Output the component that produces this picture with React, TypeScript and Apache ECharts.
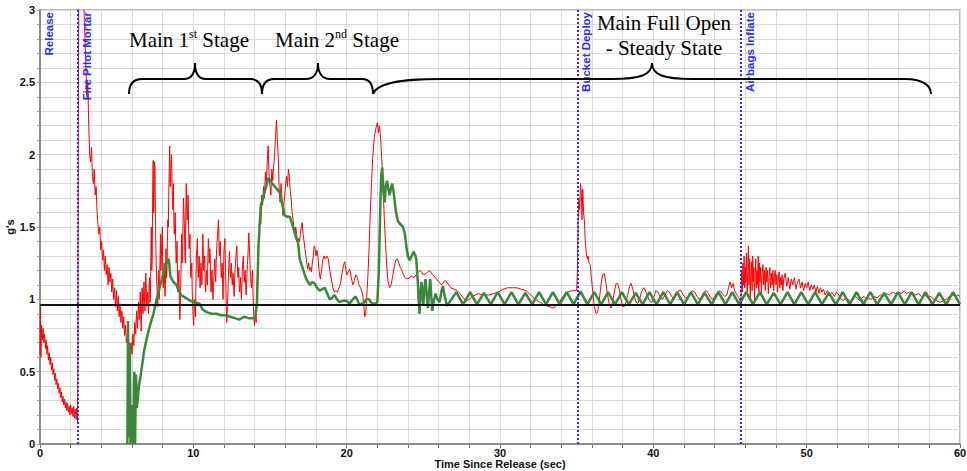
import React, { useEffect, useRef } from 'react';
import * as echarts from 'echarts';

type Pt = [number, number];

const eventNames = ['Release', 'Fire Pilot Mortar', 'Bucket Deploy', 'Airbags Inflate'];
const eventTimes = [0, 2.48, 35.05, 45.72];
const oneG = 0.96;

const redFreefall: Pt[] = [[0,0.62],[0.03,0.95],[0.06,0.6],[0.1,0.82],[0.15,0.72],[0.2,0.8],[0.25,0.7],[0.3,0.76],[0.35,0.66],[0.4,0.72],[0.45,0.62],[0.5,0.68],[0.55,0.58],[0.6,0.63],[0.65,0.55],[0.7,0.6],[0.75,0.51],[0.8,0.56],[0.85,0.48],[0.9,0.52],[0.95,0.44],[1.0,0.49],[1.05,0.41],[1.1,0.45],[1.15,0.38],[1.2,0.42],[1.25,0.35],[1.3,0.39],[1.35,0.32],[1.4,0.36],[1.45,0.29],[1.5,0.33],[1.55,0.27],[1.6,0.31],[1.65,0.25],[1.7,0.29],[1.75,0.23],[1.8,0.28],[1.85,0.22],[1.9,0.26],[1.95,0.2],[2.0,0.27],[2.05,0.21],[2.1,0.25],[2.15,0.19],[2.2,0.26],[2.25,0.18],[2.3,0.24],[2.35,0.17],[2.4,0.25],[2.45,0.15]];

const redPilotChute: Pt[] = [[2.47,0.5],[2.5,2.2],[2.53,3.2],[2.8,3.2],[2.9,2.9],[3.0,2.6],[3.06,2.4],[3.12,2.5],[3.18,2.2],[3.24,2.0],[3.3,1.95],[3.36,2.05],[3.42,1.85],[3.48,1.8],[3.54,1.9],[3.6,1.72],[3.66,1.78],[3.72,1.6],[3.78,1.52],[3.84,1.45],[3.9,1.5],[3.96,1.34],[4.02,1.4],[4.08,1.27],[4.14,1.34],[4.2,1.2],[4.26,1.3],[4.32,1.17],[4.38,1.24],[4.44,1.1],[4.5,1.22],[4.56,1.12],[4.62,1.18],[4.68,1.05],[4.74,1.14],[4.8,1.0],[4.86,1.08],[4.92,0.95],[4.98,1.06],[5.04,0.92],[5.1,1.02],[5.16,0.88],[5.22,0.97],[5.28,0.84],[5.34,0.92],[5.4,0.8],[5.46,0.88],[5.52,0.75],[5.58,0.82],[5.64,0.7],[5.7,0.75],[5.76,0.6],[5.82,0.68],[5.88,0.58],[5.94,0.7],[6.0,0.62],[6.06,0.76],[6.12,0.68],[6.18,0.84],[6.24,0.76],[6.3,0.92],[6.36,0.8],[6.42,0.98],[6.48,0.86],[6.54,1.05],[6.6,0.78],[6.66,1.08],[6.72,0.9],[6.78,1.12],[6.84,0.92],[6.9,1.18],[6.96,0.95],[7.02,1.05]];

const redFirstStage: Pt[] = [[7.08,0.9],[7.11,1.05],[7.14,1.15],[7.17,0.98],[7.2,1.0],[7.23,1.3],[7.26,1.5],[7.29,1.2],[7.32,1.3],[7.35,1.75],[7.38,1.96],[7.41,1.6],[7.44,1.7],[7.47,1.95],[7.5,1.9],[7.53,1.55],[7.56,1.35],[7.59,1.2],[7.62,1.1],[7.65,1.02],[7.68,0.95],[7.71,1.1],[7.74,1.2],[7.77,1.0],[7.8,1.05],[7.83,1.3],[7.86,1.45],[7.89,1.2],[7.92,1.3],[7.95,1.42],[7.98,1.5],[8.01,1.2],[8.04,1.08],[8.07,1.18],[8.1,1.25],[8.13,1.1],[8.16,1.02],[8.19,1.2],[8.22,1.35],[8.25,1.15],[8.28,1.2],[8.31,1.4],[8.34,1.55],[8.37,1.5],[8.4,1.75],[8.43,1.9],[8.46,2.06],[8.49,1.78],[8.52,1.85],[8.55,1.95],[8.58,2.0],[8.61,1.8],[8.64,1.7],[8.67,1.62],[8.7,1.8],[8.73,1.55],[8.76,1.45],[8.79,1.52],[8.82,1.6],[8.85,1.38],[8.88,1.25],[8.91,1.3],[8.94,1.4],[8.97,1.15],[9.0,1.05],[9.03,1.12],[9.06,1.2],[9.09,0.98],[9.12,0.86],[9.15,0.95],[9.18,1.1],[9.21,1.3],[9.24,1.45],[9.27,1.25],[9.3,1.3],[9.33,1.55],[9.36,1.7],[9.39,1.6],[9.42,1.5],[9.45,1.32],[9.48,1.25],[9.51,1.6],[9.54,1.8],[9.57,1.62],[9.6,1.55],[9.63,1.65],[9.66,1.72],[9.69,1.5],[9.72,1.35],[9.75,1.38],[9.78,1.45],[9.81,1.25],[9.84,1.15],[9.87,1.2],[9.9,1.25],[9.93,1.05],[9.96,0.95],[9.99,0.88],[10.02,0.82],[10.05,0.92],[10.08,1.0],[10.11,0.95],[10.14,0.88],[10.17,1.1],[10.2,1.3],[10.23,1.35],[10.26,1.42],[10.29,1.25],[10.32,1.15],[10.35,1.22],[10.38,1.3],[10.41,1.18],[10.44,1.08],[10.47,1.15],[10.5,1.25],[10.53,1.2],[10.56,1.1],[10.59,1.3],[10.62,1.45],[10.65,1.32],[10.68,1.2],[10.71,1.25],[10.74,1.3],[10.77,1.12],[10.8,1.05],[10.83,1.12],[10.86,1.2],[10.89,1.15],[10.92,1.1],[10.95,1.3],[10.98,1.42],[11.01,1.35],[11.04,1.25],[11.07,1.35],[11.1,1.3],[11.13,1.12],[11.16,1.05],[11.19,1.15],[11.22,1.2],[11.25,1.08],[11.28,1.0],[11.31,1.08],[11.34,1.15],[11.37,1.22],[11.4,1.28],[11.43,1.18],[11.46,1.12],[11.49,1.25],[11.52,1.35],[11.55,1.4],[11.58,1.45],[11.61,1.5],[11.64,1.55],[11.67,1.4],[11.7,1.3],[11.73,1.35],[11.76,1.4],[11.79,1.25],[11.82,1.15],[11.85,1.2],[11.88,1.25],[11.91,1.1],[11.94,1.0],[11.97,1.2],[12.0,1.35],[12.03,1.38],[12.06,1.42],[12.09,1.25],[12.12,1.1],[12.15,0.95],[12.18,0.84],[12.21,0.92],[12.24,1.0],[12.27,1.1],[12.3,1.2],[12.33,1.28],[12.36,1.33],[12.39,1.22],[12.42,1.15],[12.45,1.2],[12.48,1.25],[12.51,1.15],[12.54,1.1],[12.57,1.15],[12.6,1.18],[12.63,1.08],[12.66,1.02],[12.69,1.12],[12.72,1.2],[12.75,1.25],[12.78,1.3],[12.81,1.33],[12.84,1.37],[12.87,1.25],[12.9,1.15],[12.93,1.18],[12.96,1.22],[12.99,1.1],[13.02,1.05],[13.05,1.1],[13.08,1.15],[13.11,1.06],[13.14,1.0],[13.17,1.12],[13.2,1.22],[13.23,1.26],[13.26,1.3],[13.29,1.2],[13.32,1.12],[13.35,1.16],[13.38,1.2],[13.41,1.1],[13.44,1.03],[13.47,1.1],[13.5,1.18],[13.53,1.24],[13.56,1.3],[13.59,1.38],[13.62,1.46],[13.65,1.38],[13.68,1.3],[13.71,1.2],[13.74,1.15],[13.77,1.1],[13.8,1.08],[13.83,1.15],[13.86,1.2],[13.89,1.05],[13.92,0.95],[13.95,0.88],[13.98,0.82],[14.01,0.86],[14.04,0.9],[14.07,0.86],[14.1,0.84],[14.13,0.98],[14.16,1.1],[14.19,1.18],[14.22,1.26],[14.25,1.35],[14.28,1.45]];

const redSecondStage: Pt[] = [[14.34,1.6],[14.4,1.52],[14.46,1.72],[14.52,1.65],[14.58,1.78],[14.64,1.7],[14.7,1.88],[14.76,1.8],[14.82,1.95],[14.88,2.06],[14.94,1.85],[15.0,1.78],[15.06,1.72],[15.12,1.9],[15.18,1.82],[15.24,1.92],[15.3,2.0],[15.36,2.12],[15.42,2.24],[15.48,2.1],[15.54,1.98],[15.6,1.75],[15.66,1.67],[15.72,1.8],[15.78,1.7],[15.84,1.58],[15.9,1.65],[15.96,1.72],[16.02,1.8],[16.08,1.85],[16.14,1.78],[16.2,1.9],[16.26,1.85],[16.32,1.75],[16.38,1.7],[16.44,1.6],[16.5,1.55],[16.56,1.5],[16.62,1.45],[16.68,1.5],[16.74,1.45],[16.8,1.38],[16.86,1.42],[16.92,1.4],[16.98,1.45],[17.04,1.5],[17.1,1.53],[17.16,1.45],[17.22,1.4],[17.28,1.35],[17.34,1.3],[17.4,1.25],[17.46,1.21],[17.52,1.25],[17.58,1.2],[17.64,1.22],[17.7,1.19],[17.76,1.25],[17.82,1.3],[17.88,1.37],[17.94,1.35],[18.0,1.3],[18.06,1.34],[18.12,1.3],[18.2,1.2],[18.28,1.14],[18.36,1.2],[18.44,1.27],[18.52,1.3],[18.6,1.28],[18.7,1.3],[18.8,1.28],[18.9,1.2],[19.0,1.14],[19.1,1.08],[19.2,1.05],[19.3,1.06],[19.4,1.05],[19.5,1.08],[19.6,1.11],[19.7,1.18],[19.8,1.24],[19.88,1.26],[19.95,1.2],[20.02,1.17],[20.1,1.19],[20.2,1.21],[20.3,1.15],[20.4,1.1],[20.5,1.13],[20.6,1.17],[20.7,1.15],[20.8,1.1],[20.9,1.08],[21.0,1.05],[21.06,1.02],[21.12,0.95],[21.18,0.88],[21.24,0.9],[21.3,1.0],[21.38,1.15],[21.46,1.35],[21.54,1.6],[21.62,1.8],[21.7,1.98],[21.8,2.12],[21.9,2.18],[22.0,2.22],[22.08,2.15],[22.14,2.2],[22.22,2.1],[22.3,1.95],[22.38,1.75],[22.46,1.55],[22.54,1.38],[22.62,1.22],[22.7,1.12],[22.8,1.08]];

const redFullOpen: Pt[] = [[22.9,1.1],[23.0,1.16],[23.1,1.22],[23.2,1.27],[23.3,1.28],[23.4,1.25],[23.5,1.22],[23.6,1.2],[23.7,1.17],[23.8,1.15],[24.0,1.14],[24.2,1.16],[24.4,1.15],[24.6,1.18],[24.8,1.2],[25.0,1.17],[25.2,1.18],[25.4,1.2],[25.6,1.17],[25.8,1.15],[26.0,1.12],[26.2,1.1],[26.4,1.13],[26.6,1.11],[26.8,1.08],[27.0,1.07],[27.2,1.06],[27.4,1.04],[27.6,1.01],[27.8,0.99],[28.0,1.0],[28.2,1.02],[28.4,1.03],[28.6,1.04],[28.8,1.03],[29.0,1.03],[29.3,1.03],[29.6,1.04],[29.9,1.05],[30.2,1.07],[30.5,1.08],[30.8,1.08],[31.1,1.08],[31.4,1.07],[31.7,1.06],[32.0,1.03],[32.3,1.0],[32.6,0.98],[32.9,0.96],[33.2,0.95],[33.5,0.94],[33.8,0.97],[34.1,1.02],[34.4,1.05],[34.7,1.06],[35.0,1.06]];

const redBucket: Pt[] = [[35.05,1.2],[35.1,1.55],[35.15,1.7],[35.2,1.62],[35.25,1.8],[35.3,1.75],[35.35,1.55],[35.4,1.76],[35.45,1.6],[35.5,1.55],[35.55,1.42],[35.6,1.35],[35.65,1.3],[35.7,1.28],[35.75,1.3],[35.8,1.25],[35.88,1.24],[35.96,1.15],[36.05,1.05],[36.15,0.95],[36.27,0.9],[36.37,0.91],[36.48,1.0],[36.59,1.1],[36.7,1.17],[36.8,1.18],[36.9,1.12],[37.0,1.04],[37.12,0.97],[37.24,0.94],[37.35,0.99],[37.46,1.05],[37.57,1.11],[37.67,1.11],[37.78,1.07],[37.89,1.0],[38.0,0.95],[38.1,0.95],[38.22,0.98],[38.33,1.03],[38.45,1.09],[38.55,1.11],[38.66,1.07],[38.77,1.02],[38.88,0.98],[38.98,0.97],[39.1,1.0],[39.2,1.04],[39.3,1.07],[39.41,1.08],[39.52,1.05],[39.63,1.02],[39.75,0.99],[39.91,0.98],[40.05,1.02],[40.17,1.06],[40.3,1.05],[40.45,1.02],[40.6,1.0],[40.75,1.03],[40.9,1.06],[41.05,1.05],[41.2,1.02],[41.35,1.0],[41.5,1.03],[41.65,1.06],[41.8,1.06],[41.95,1.03],[42.1,1.01],[42.25,1.01],[42.4,1.04],[42.55,1.06],[42.7,1.05],[42.85,1.02],[43.0,1.0],[43.15,1.02],[43.3,1.05],[43.45,1.06],[43.6,1.04],[43.75,1.01],[43.9,1.0],[44.05,1.03],[44.2,1.05],[44.35,1.06],[44.5,1.04],[44.65,1.02],[44.8,1.03],[44.9,1.08],[45.0,1.12],[45.1,1.08],[45.2,1.11],[45.3,1.06],[45.4,1.04],[45.5,1.02],[45.6,1.01],[45.68,0.98]];

const redAirbags: Pt[] = [[45.72,1.0],[45.76,1.2],[45.8,1.05],[45.84,1.25],[45.88,1.1],[45.92,1.3],[45.96,1.08],[46.0,1.22],[46.04,1.12],[46.08,1.32],[46.12,1.05],[46.16,1.2],[46.2,1.37],[46.24,1.1],[46.28,1.28],[46.32,1.0],[46.36,1.18],[46.4,1.26],[46.44,1.06],[46.48,1.3],[46.52,1.12],[46.56,1.22],[46.6,0.98],[46.64,1.15],[46.68,1.28],[46.72,1.08],[46.76,1.2],[46.8,1.1],[46.84,1.3],[46.88,1.05],[46.92,1.25],[46.96,1.12],[47.0,1.22],[47.05,1.03],[47.1,1.18],[47.15,1.24],[47.2,1.1],[47.25,1.2],[47.3,1.06],[47.35,1.22],[47.4,1.12],[47.45,1.2],[47.5,1.04],[47.55,1.16],[47.6,1.22],[47.65,1.08],[47.7,1.18],[47.75,1.1],[47.8,1.2],[47.85,1.06],[47.9,1.15],[47.95,1.2],[48.0,1.1],[48.05,1.17],[48.1,1.05],[48.15,1.14],[48.2,1.19],[48.25,1.08],[48.3,1.15],[48.35,1.1],[48.4,1.17],[48.45,1.06],[48.5,1.14],[48.6,1.18],[48.7,1.09],[48.8,1.15],[48.9,1.07],[49.0,1.14],[49.1,1.1],[49.2,1.15],[49.3,1.07],[49.4,1.12],[49.5,1.14],[49.6,1.08],[49.7,1.12],[49.8,1.06],[49.9,1.11],[50.0,1.08],[50.1,1.12],[50.2,1.06],[50.3,1.1],[50.4,1.07],[50.5,1.1],[50.6,1.05],[50.7,1.09],[50.8,1.04],[50.9,1.08],[51.0,1.05],[51.1,1.07],[51.2,1.03],[51.35,1.06],[51.5,1.03],[51.65,1.05],[51.8,1.02],[51.95,1.05],[52.1,1.03],[52.25,1.0],[52.4,0.99],[52.55,1.01],[52.7,1.0],[52.85,0.98],[53.0,1.0],[53.15,1.02],[53.3,1.01],[53.45,0.99],[53.6,1.01],[53.75,1.02],[53.9,1.0],[54.05,1.01],[54.2,1.0],[54.4,1.02],[54.6,1.01],[54.8,1.03],[55.0,1.02],[55.2,1.04],[55.4,1.03],[55.6,1.05],[55.8,1.04],[56.0,1.05],[56.2,1.04],[56.35,1.06],[56.5,1.04],[56.7,1.05],[56.9,1.04],[57.1,1.03],[57.3,1.04],[57.5,1.02],[57.7,1.03],[57.9,1.01],[58.1,1.02],[58.3,1.0],[58.5,0.99],[58.7,0.98],[58.9,0.99],[59.1,1.0],[59.3,1.02],[59.5,1.03],[59.7,1.02],[59.85,1.03],[60.0,1.02]];

const greenFirstStage: Pt[] = [[5.7,0],[5.74,0.85],[5.8,0.05],[5.86,0.7],[5.9,0.0],[6.0,0.27],[6.08,0.0],[6.15,0.5],[6.2,0.0],[6.26,0.48],[6.32,0.25],[6.45,0.4],[6.6,0.5],[6.8,0.65],[7.0,0.75],[7.2,0.83],[7.4,0.9],[7.6,1.0],[7.8,1.08],[8.0,1.16],[8.2,1.24],[8.4,1.28],[8.5,1.16],[8.7,1.12],[8.9,1.1],[9.0,1.07],[9.2,1.03],[9.5,1.01],[9.8,0.99],[10.1,0.98],[10.4,0.97],[10.6,0.93],[10.9,0.91],[11.2,0.9],[11.5,0.9],[11.8,0.89],[12.1,0.89],[12.4,0.88],[12.7,0.87],[13.0,0.86],[13.3,0.88],[13.6,0.87],[13.9,0.87],[14.05,0.88],[14.15,0.98],[14.25,1.37],[14.4,1.65],[14.7,1.76],[14.9,1.84]];

const greenSecondStage: Pt[] = [[15.15,1.8],[15.31,1.78],[15.47,1.76],[15.63,1.74],[15.8,1.66],[15.96,1.58],[16.12,1.57],[16.29,1.57],[16.45,1.52],[16.61,1.46],[16.72,1.42],[16.83,1.39],[16.94,1.28],[17.05,1.24],[17.15,1.21],[17.26,1.17],[17.37,1.14],[17.48,1.12],[17.59,1.1],[17.75,1.12],[17.9,1.11],[18.07,1.08],[18.24,1.06],[18.4,1.07],[18.57,1.08],[18.73,1.04],[18.89,1.0],[19.05,1.01],[19.2,1.03],[19.37,1.0],[19.54,0.98],[19.75,0.99],[19.97,0.99],[20.19,0.97],[20.4,1.0],[20.58,1.02],[20.72,0.99],[20.84,0.96],[21.0,0.97],[21.17,0.98],[21.3,1.0],[21.45,1.0],[21.58,0.98],[21.71,0.97],[21.85,0.97],[22.0,0.98]];

const greenFullOpen: Pt[] = [[22.1,1.2],[22.19,1.63],[22.25,1.85],[22.32,1.91],[22.4,1.75],[22.48,1.67],[22.55,1.78],[22.63,1.82],[22.72,1.76],[22.8,1.72],[22.88,1.76],[22.97,1.8],[23.05,1.75],[23.12,1.69],[23.22,1.6],[23.34,1.54],[23.5,1.52],[23.67,1.5],[23.8,1.45],[23.9,1.36],[23.99,1.3],[24.1,1.27],[24.25,1.3],[24.36,1.33],[24.46,1.31],[24.54,1.28],[24.6,1.18],[24.65,1.1],[24.7,0.98],[24.75,0.9],[24.82,1.05],[24.88,1.12],[24.94,1.02],[25.0,0.96],[25.07,1.08],[25.14,1.14],[25.22,1.03],[25.3,0.94],[25.38,1.06],[25.45,1.14],[25.52,1.02],[25.58,0.92],[25.68,0.99],[25.8,1.04],[25.92,1.0],[26.06,0.98],[26.17,1.05],[26.27,1.09],[26.4,1.02],[26.54,0.955]];

const greenSteady: Pt[] = [[27.15,1.05],[27.6,0.965],[28.05,1.05],[28.5,0.965],[28.95,1.045],[29.4,0.965],[29.85,1.05],[30.3,0.965],[30.75,1.05],[31.2,0.965],[31.65,1.045],[32.1,0.965],[32.55,1.05],[33.0,0.965],[33.45,1.05],[33.9,0.965],[34.35,1.05],[34.8,0.965],[35.25,1.055],[35.7,0.965],[36.15,1.05],[36.6,0.965],[37.05,1.05],[37.5,0.965],[37.95,1.05],[38.4,0.965],[38.85,1.045],[39.3,0.965],[39.75,1.05],[40.2,0.965],[40.65,1.05],[41.1,0.965],[41.55,1.05],[42.0,0.965],[42.45,1.05],[42.9,0.965],[43.35,1.045],[43.8,0.965],[44.25,1.05],[44.7,0.965],[45.15,1.05],[45.6,0.965],[46.05,1.05],[46.5,0.965],[46.95,1.05],[47.4,0.965],[47.85,1.045],[48.3,0.965],[48.75,1.05],[49.2,0.965],[49.65,1.05],[50.1,0.965],[50.55,1.05],[51.0,0.965],[51.45,1.045],[51.9,0.965],[52.35,1.05],[52.8,0.965],[53.25,1.05],[53.7,0.965],[54.15,1.05],[54.6,0.965],[55.05,1.045],[55.5,0.965],[55.95,1.05],[56.4,0.965],[56.85,1.05],[57.3,0.965],[57.75,1.05],[58.2,0.965],[58.65,1.045],[59.1,0.965],[59.55,1.05],[60.0,0.965]];

const redTrace: Pt[] = [...redFreefall, ...redPilotChute, ...redFirstStage, ...redSecondStage, ...redFullOpen, ...redBucket, ...redAirbags];
const greenTrace: Pt[] = [...greenFirstStage, ...greenSecondStage, ...greenFullOpen, ...greenSteady];

const bracePath =
  'M129,94 C129,84 134,79 142,79 L184,79 C190,79 195,75 195,63 C195,75 200,79 206,79 L250,79 C258,79 262,84 262,94 ' +
  'M262,94 C262,84 266,79 274,79 L306,79 C312,79 318,75 318,63 C318,75 324,79 330,79 L362,79 C369,79 373,84 373,94 ' +
  'M373,94 C377,83 400,79 440,79 L612,79 C640,79 652,75 652,63 C652,75 664,79 692,79 L905,79 C922,79 931,85 931,94';

let registered = false;

const isMultiple = (v: number, step: number) => Math.abs(v / step - Math.round(v / step)) < 1e-6;

export default function App() {
  const ref = useRef<HTMLDivElement>(null);
  useEffect(() => {
    if (!ref.current) return;
    if (!registered) {
      echarts.graphic.registerShape('braces', echarts.graphic.extendPath(bracePath, {}));
      registered = true;
    }
    const chart = echarts.init(ref.current, undefined, { renderer: 'svg' });
    const gridColor = '#d9d9d9';
    const labelFont = { fontFamily: 'Liberation Sans', fontWeight: 'bold' as const, fontSize: 11, color: '#111' };
    const serif = 'Liberation Serif';
    const blue = '#2a2aff';
    chart.setOption({
      animation: false,
      backgroundColor: '#ffffff',
      grid: {
        left: 40, right: 7, top: 10, bottom: 27, containLabel: false, outerBoundsMode: 'none',
        show: true, borderColor: '#a8a8a8', borderWidth: 1.5, backgroundColor: 'transparent',
      },
      xAxis: {
        type: 'value', min: 0, max: 60, interval: 2,
        name: 'Time Since Release (sec)', nameLocation: 'middle', nameGap: 14, nameMoveOverlap: false,
        nameTextStyle: { ...labelFont },
        axisLine: { show: true, onZero: false, lineStyle: { color: '#8c8c8c', width: 2 } },
        axisTick: { show: true, length: 4, lineStyle: { color: '#777' } },
        splitLine: { show: true, lineStyle: { color: gridColor, width: 1 } },
        axisLabel: { ...labelFont, margin: 3, formatter: (v: number) => (isMultiple(v, 10) ? String(Math.round(v)) : '') },
      },
      yAxis: {
        type: 'value', min: 0, max: 3, interval: 0.1,
        name: "g's", nameLocation: 'middle', nameGap: 25, nameRotate: 90, nameMoveOverlap: false,
        nameTextStyle: { ...labelFont },
        axisLine: { show: true, onZero: false, lineStyle: { color: '#8c8c8c', width: 2 } },
        axisTick: { show: true, length: 3, lineStyle: { color: '#999' } },
        splitLine: { show: true, lineStyle: { color: gridColor, width: 1 } },
        axisLabel: {
          ...labelFont, margin: 5,
          formatter: (v: number) => (isMultiple(v, 0.5) ? String(Math.round(v * 2) / 2) : ''),
        },
      },
      series: [
        {
          type: 'line', name: 'Measured', data: redTrace, showSymbol: false, symbol: 'none', clip: true,
          lineStyle: { color: '#ff0000', width: 1 }, z: 2,
          markLine: {
            silent: true, symbol: 'none', animation: false,
            label: {
              show: true, position: 'insideEndBottom', formatter: '{b}', distance: [2, 3],
              color: blue, fontFamily: 'Liberation Sans', fontWeight: 'bold', fontSize: 11.5,
            },
            lineStyle: { color: blue, type: 'dotted', width: 2 },
            data: eventTimes.map((t, i) => ({
              name: eventNames[i], xAxis: t,
              lineStyle: i === 0 ? { color: 'rgba(0,0,0,0)', width: 0 } : { color: blue, type: 'dotted', width: 2 },
              label: { color: blue, fontWeight: 'bold', fontSize: 11.5, fontFamily: 'Liberation Sans' },
            })),
          },
        },
        {
          type: 'line', name: 'Model', data: greenTrace, showSymbol: false, symbol: 'none', clip: true,
          lineStyle: { color: '#3b873b', width: 2.5 }, z: 3,
          markLine: {
            silent: true, symbol: 'none', animation: false,
            label: { show: false },
            lineStyle: { color: '#111', type: 'solid', width: 2 },
            data: [{ yAxis: oneG }],
          },
        },
      ],
      graphic: [
        { type: 'braces', x: 0, y: 0, shape: {}, style: { stroke: '#000', lineWidth: 2, fill: 'none' }, z: 10 },
        {
          type: 'text', x: 189, y: 40, z: 10,
          style: {
            text: '{a|Main 1}{s|st}{a| Stage}', align: 'center', verticalAlign: 'middle',
            rich: {
              a: { fontFamily: serif, fontSize: 21, lineHeight: 24, fill: '#000', verticalAlign: 'middle' },
              s: { fontFamily: serif, fontSize: 12, lineHeight: 12, fill: '#000', verticalAlign: 'top' },
            },
          },
        },
        {
          type: 'text', x: 337, y: 40, z: 10,
          style: {
            text: '{a|Main 2}{s|nd}{a| Stage}', align: 'center', verticalAlign: 'middle',
            rich: {
              a: { fontFamily: serif, fontSize: 21, lineHeight: 24, fill: '#000', verticalAlign: 'middle' },
              s: { fontFamily: serif, fontSize: 12, lineHeight: 12, fill: '#000', verticalAlign: 'top' },
            },
          },
        },
        {
          type: 'text', x: 664, y: 35, z: 10,
          style: {
            text: 'Main Full Open\n- Steady State', align: 'center', verticalAlign: 'middle',
            fontFamily: serif, fontSize: 21, lineHeight: 25, fill: '#000',
          },
        },
      ],
    });
    return () => chart.dispose();
  }, []);
  return <div ref={ref} style={{ position: 'fixed', left: 0, top: 0, width: 967, height: 471, background: '#fff' }} />;
}
